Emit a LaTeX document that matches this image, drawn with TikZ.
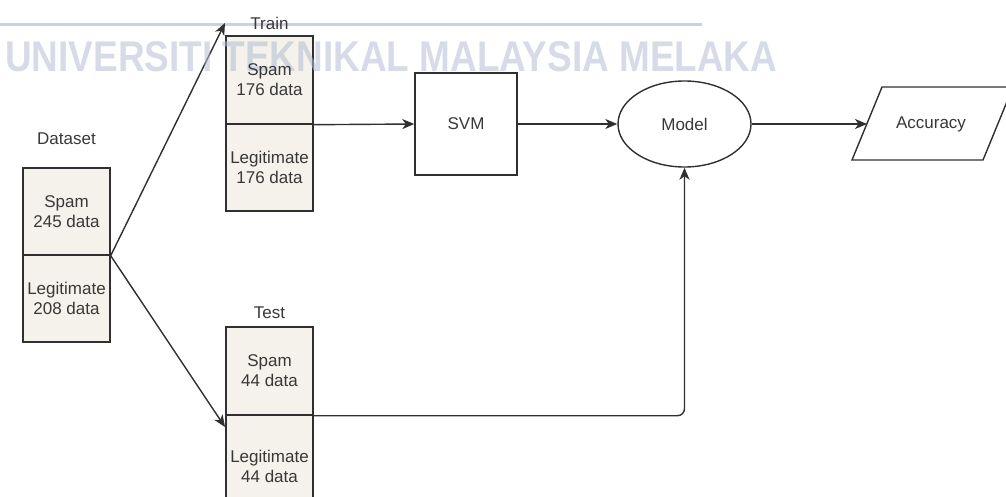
\documentclass[tikz,border=0pt]{standalone}
\usepackage{fontspec}
\setmainfont{Liberation Sans}
\usetikzlibrary{arrows.meta,shapes.geometric}
\definecolor{linec}{HTML}{303030}
\definecolor{txtc}{HTML}{383838}
\definecolor{cellfill}{HTML}{F4F2EA}
\definecolor{markc}{HTML}{B4BDD3}
\newcommand{\lbl}{\fontsize{17}{20}\selectfont}
\tikzset{
  cell/.style={draw=linec, fill=cellfill, line width=1.4pt, minimum width=87pt,
    inner sep=0pt, align=center, font=\lbl, text=txtc},
  plain/.style={inner sep=0pt, align=center, font=\lbl, text=txtc},
  procbox/.style={draw=linec, line width=1.4pt, minimum width=102pt, minimum height=102pt,
    inner sep=0pt, font=\lbl, text=txtc},
  flow/.style={draw=linec, line width=1.4pt, -{Stealth[length=12pt,width=10pt,inset=3.5pt]}},
}
\begin{document}
\begin{tikzpicture}[x=1pt,y=-1pt]
\useasboundingbox (0,0) rectangle (1006,497);

% university banner across the top, faint behind the chart
\fill[markc, opacity=0.7] (0,23.5) rectangle (702,26.5);

% dataset
\node[plain] (dslabel) at (66.5,139) {Dataset};
\node[cell, minimum height=87pt] (dsspam) at (66.5,211.5) {Spam\\245 data};
\node[cell, minimum height=87pt] (dslegit) at (66.5,298.5) {Legitimate\\208 data};

% training split
\node[plain] (trlabel) at (269.5,23) {Train};
\node[cell, minimum height=88pt] (trspam) at (269.5,80) {};
\node[cell, minimum height=87pt] (trlegit) at (269.5,167.5) {Legitimate\\176 data};

% test split
\node[plain] (telabel) at (269.5,313) {Test};
\node[cell, minimum height=88pt] (tespam) at (269.5,371) {Spam\\44 data};
\node[cell, minimum height=102pt] (telegit) at (269.5,466) {Legitimate\\44 data};

% classifier, model and result
\node[procbox] (svm) at (466,124) {SVM};
\node[draw=linec, line width=1.4pt, ellipse, minimum width=133pt, minimum height=86pt,
  inner sep=0pt, font=\lbl, text=txtc] (model) at (684.5,124) {Model};
\draw[draw=linec, line width=1.4pt, fill=white]
  (852,160) -- (882,87) -- (1013,87) -- (983,160) -- cycle;
\node[plain] (acc) at (931,124) {Accuracy};
\coordinate (accin) at (867,124);

% connectors
\coordinate (trainin) at (225,23);
\coordinate (testin) at (225,427);
\draw[flow] (dsspam.south east) -- (trainin);
\draw[flow] (dsspam.south east) -- (testin);
\draw[flow] (trspam.south east) -- (svm.west);
\draw[flow] (svm.east) -- (model.west);
\draw[flow] (model.east) -- (accin);
\draw[flow, rounded corners=7pt] (tespam.south east) -| (model.south);

% banner lettering, washed over the chart
\node[anchor=south west, inner sep=0pt, text=markc, opacity=0.55] (banner) at (5,72)
  {\resizebox{772pt}{30pt}{\bfseries UNIVERSITI TEKNIKAL MALAYSIA MELAKA}};

% text of the training spam cell, kept legible above the banner
\node[plain] (trspamtext) at (trspam.center) {Spam\\176 data};
\end{tikzpicture}
\end{document}
